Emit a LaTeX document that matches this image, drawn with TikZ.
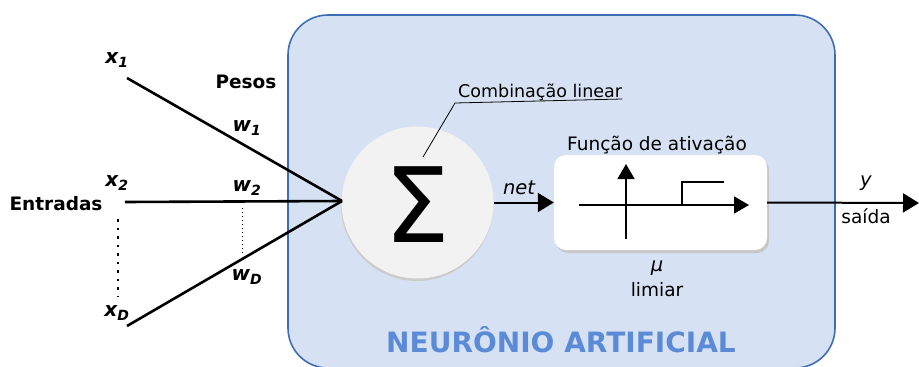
\documentclass[tikz,border=0pt]{standalone}
\usepackage{fontspec}
\setmainfont{DejaVu Sans}
\usetikzlibrary{arrows.meta}
\definecolor{boxfill}{HTML}{D6E2F4}
\definecolor{boxdraw}{HTML}{3D6DB5}
\definecolor{titleblue}{HTML}{5B8BD6}
\definecolor{circfill}{HTML}{F2F2F2}
\tikzset{
  lbl/.style={font=\fontsize{18.5}{22}\selectfont},
  ilbl/.style={font=\itshape\fontsize{19.5}{22}\selectfont},
  blbl/.style={font=\bfseries\fontsize{18.5}{22}\selectfont},
  var/.style={font=\bfseries\itshape\fontsize{20}{24}\selectfont},
  inline/.style={line width=2.6pt},
  arr/.style={line width=2pt,-{Triangle[length=16pt,width=19pt]}},
  axarr/.style={line width=1.6pt,-{Triangle[length=15pt,width=17pt]}},
}
\begin{document}
\begin{tikzpicture}[x=1pt,y=-1pt]
\useasboundingbox (0,0) rectangle (919,367);
% outer box
\draw[boxdraw,fill=boxfill,line width=1.6pt,rounded corners=40pt] (288,15) rectangle (835,368);
\node[font=\bfseries\fontsize{28}{32}\selectfont,text=titleblue] (title) at (561,340) {NEURÔNIO ARTIFICIAL};
% sum circle
\fill[black!20] (417,205) circle (76);
\node[circle,fill=circfill,minimum size=152pt,inner sep=0pt] (sum) at (417.5,202.5) {};
\node[font=\fontsize{104}{110}\selectfont,inner sep=0pt] (sigma) at (417.5,204.5) {Σ};
% label combination
\node[lbl,font=\fontsize{17.5}{20}\selectfont,anchor=south west,inner sep=0pt] (comb) at (458,101) {Combinação linear};
\coordinate (cu) at (455,103);
\coordinate (cl) at (423,157);
\draw[line width=0.8pt] (comb.south east) ++(0,-2) -- (cu) -- (cl);
% activation box
\fill[black!22,rounded corners=12pt] (556,158) rectangle (769,253);
\node[fill=white,rounded corners=12pt,minimum width=213pt,minimum height=95pt,inner sep=0pt] (act) at (660.5,202.5) {};
\node[lbl] (fatv) at (657,145) {Função de ativação};
\coordinate (hx0) at (579,205);
\coordinate (hx1) at (749,205);
\coordinate (vy0) at (626,239);
\coordinate (vy1) at (626,164);
\draw[axarr] (hx0) -- (hx1);
\draw[axarr] (vy0) -- (vy1);
\coordinate (s0) at (682,205);
\coordinate (s1) at (682,182);
\coordinate (s2) at (724,182);
\draw[line width=1.6pt] (s0) -- (s1) -- (s2);
\node[ilbl] (mu) at (657,268) {μ};
\node[lbl] (lim) at (657,290) {limiar};
% net
\draw[arr] (sum.east) -- (act.west);
\node[ilbl] (net) at (519,188) {net};
% output
\coordinate (out) at (919,203);
\draw[arr] (act.east) -- (out);
\node[ilbl] (y) at (866,183) {y};
\node[lbl] (said) at (866,216) {saída};
% inputs
\node[var] (x1) at (117,60) {x\textsubscript{1}};
\node[var] (x2) at (117,183) {x\textsubscript{2}};
\node[var] (xD) at (117,313) {x\textsubscript{D}};
\coordinate (x1e) at (127,78);
\coordinate (x2e) at (125,202);
\coordinate (xDe) at (127,326);
\coordinate (conv) at (342,201);
\draw[inline] (x1e) -- (conv);
\draw[inline] (x2e) -- (conv);
\draw[inline] (xDe) -- (conv);
\coordinate (d1a) at (118,219);
\coordinate (d1b) at (118,296);
\draw[line width=2.2pt,dash pattern=on 2.5pt off 6pt] (d1a) -- (d1b);
\coordinate (d2a) at (242,208);
\coordinate (d2b) at (242,254);
\draw[line width=1pt,dash pattern=on 1pt off 3pt] (d2a) -- (d2b);
\node[blbl] (pesos) at (246,82) {Pesos};
\node[blbl] (entr) at (56,204) {Entradas};
\node[var] (w1) at (247,128) {w\textsubscript{1}};
\node[var] (w2) at (247,188) {w\textsubscript{2}};
\node[var] (wD) at (247,277) {w\textsubscript{D}};
\end{tikzpicture}
\end{document}
